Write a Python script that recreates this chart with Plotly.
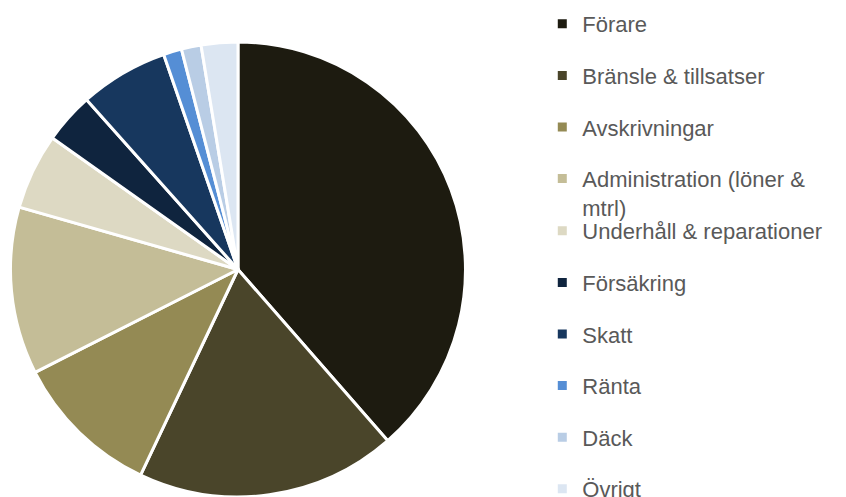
import plotly.graph_objects as go

labels = ["Förare", "Bränsle & tillsatser", "Avskrivningar", "Administration (löner & mtrl)",
          "Underhåll & reparationer", "Försäkring", "Skatt", "Ränta", "Däck", "Övrigt"]
values = [38.6, 18.5, 10.5, 11.9, 5.4, 3.6, 6.3, 1.3, 1.4, 2.6]
colors = ["#1d1b10", "#4a452a", "#948a54", "#c4bd97", "#ddd9c3",
          "#0f243e", "#17375e", "#558ed5", "#b9cde5", "#dce6f2"]

fig = go.Figure()
fig.add_trace(go.Pie(
    labels=labels,
    values=values,
    sort=False,
    direction="clockwise",
    rotation=0,
    marker=dict(colors=colors, line=dict(color="white", width=3)),
    textinfo="none",
    domain=dict(x=[0.0118, 0.5508], y=[0.0, 0.9155]),
    showlegend=False,
    hoverinfo="label+percent",
))

# legend entries (the long label wraps onto two lines, as in the reference)
for i, (lab, col) in enumerate(zip(labels, colors)):
    name = lab.replace("(löner & mtrl)", "(löner &<br>mtrl)")
    fig.add_trace(go.Scatter(
        x=[None], y=[None], mode="markers",
        marker=dict(symbol="square", size=9, color=col),
        name=name, legendgroup=f"g{i}", showlegend=True,
        legend="legend" if i <= 3 else "legend2",
        hoverinfo="skip",
    ))

legend_font = dict(family="Liberation Sans, Arial", size=22, color="#595959")
fig.update_layout(
    width=846, height=497,
    margin=dict(l=0, r=0, t=0, b=0, autoexpand=False),
    paper_bgcolor="white",
    plot_bgcolor="white",
    xaxis=dict(visible=False),
    yaxis=dict(visible=False),
    legend=dict(
        x=0.641, xanchor="left", y=0.994, yanchor="top",
        valign="top", font=legend_font, tracegroupgap=20,
        bgcolor="rgba(0,0,0,0)", maxheight=600,
    ),
    legend2=dict(
        x=0.641, xanchor="left", y=0.5775, yanchor="top",
        valign="top", font=legend_font, tracegroupgap=20,
        bgcolor="rgba(0,0,0,0)", maxheight=600,
    ),
)

fig.write_html("out.html")
